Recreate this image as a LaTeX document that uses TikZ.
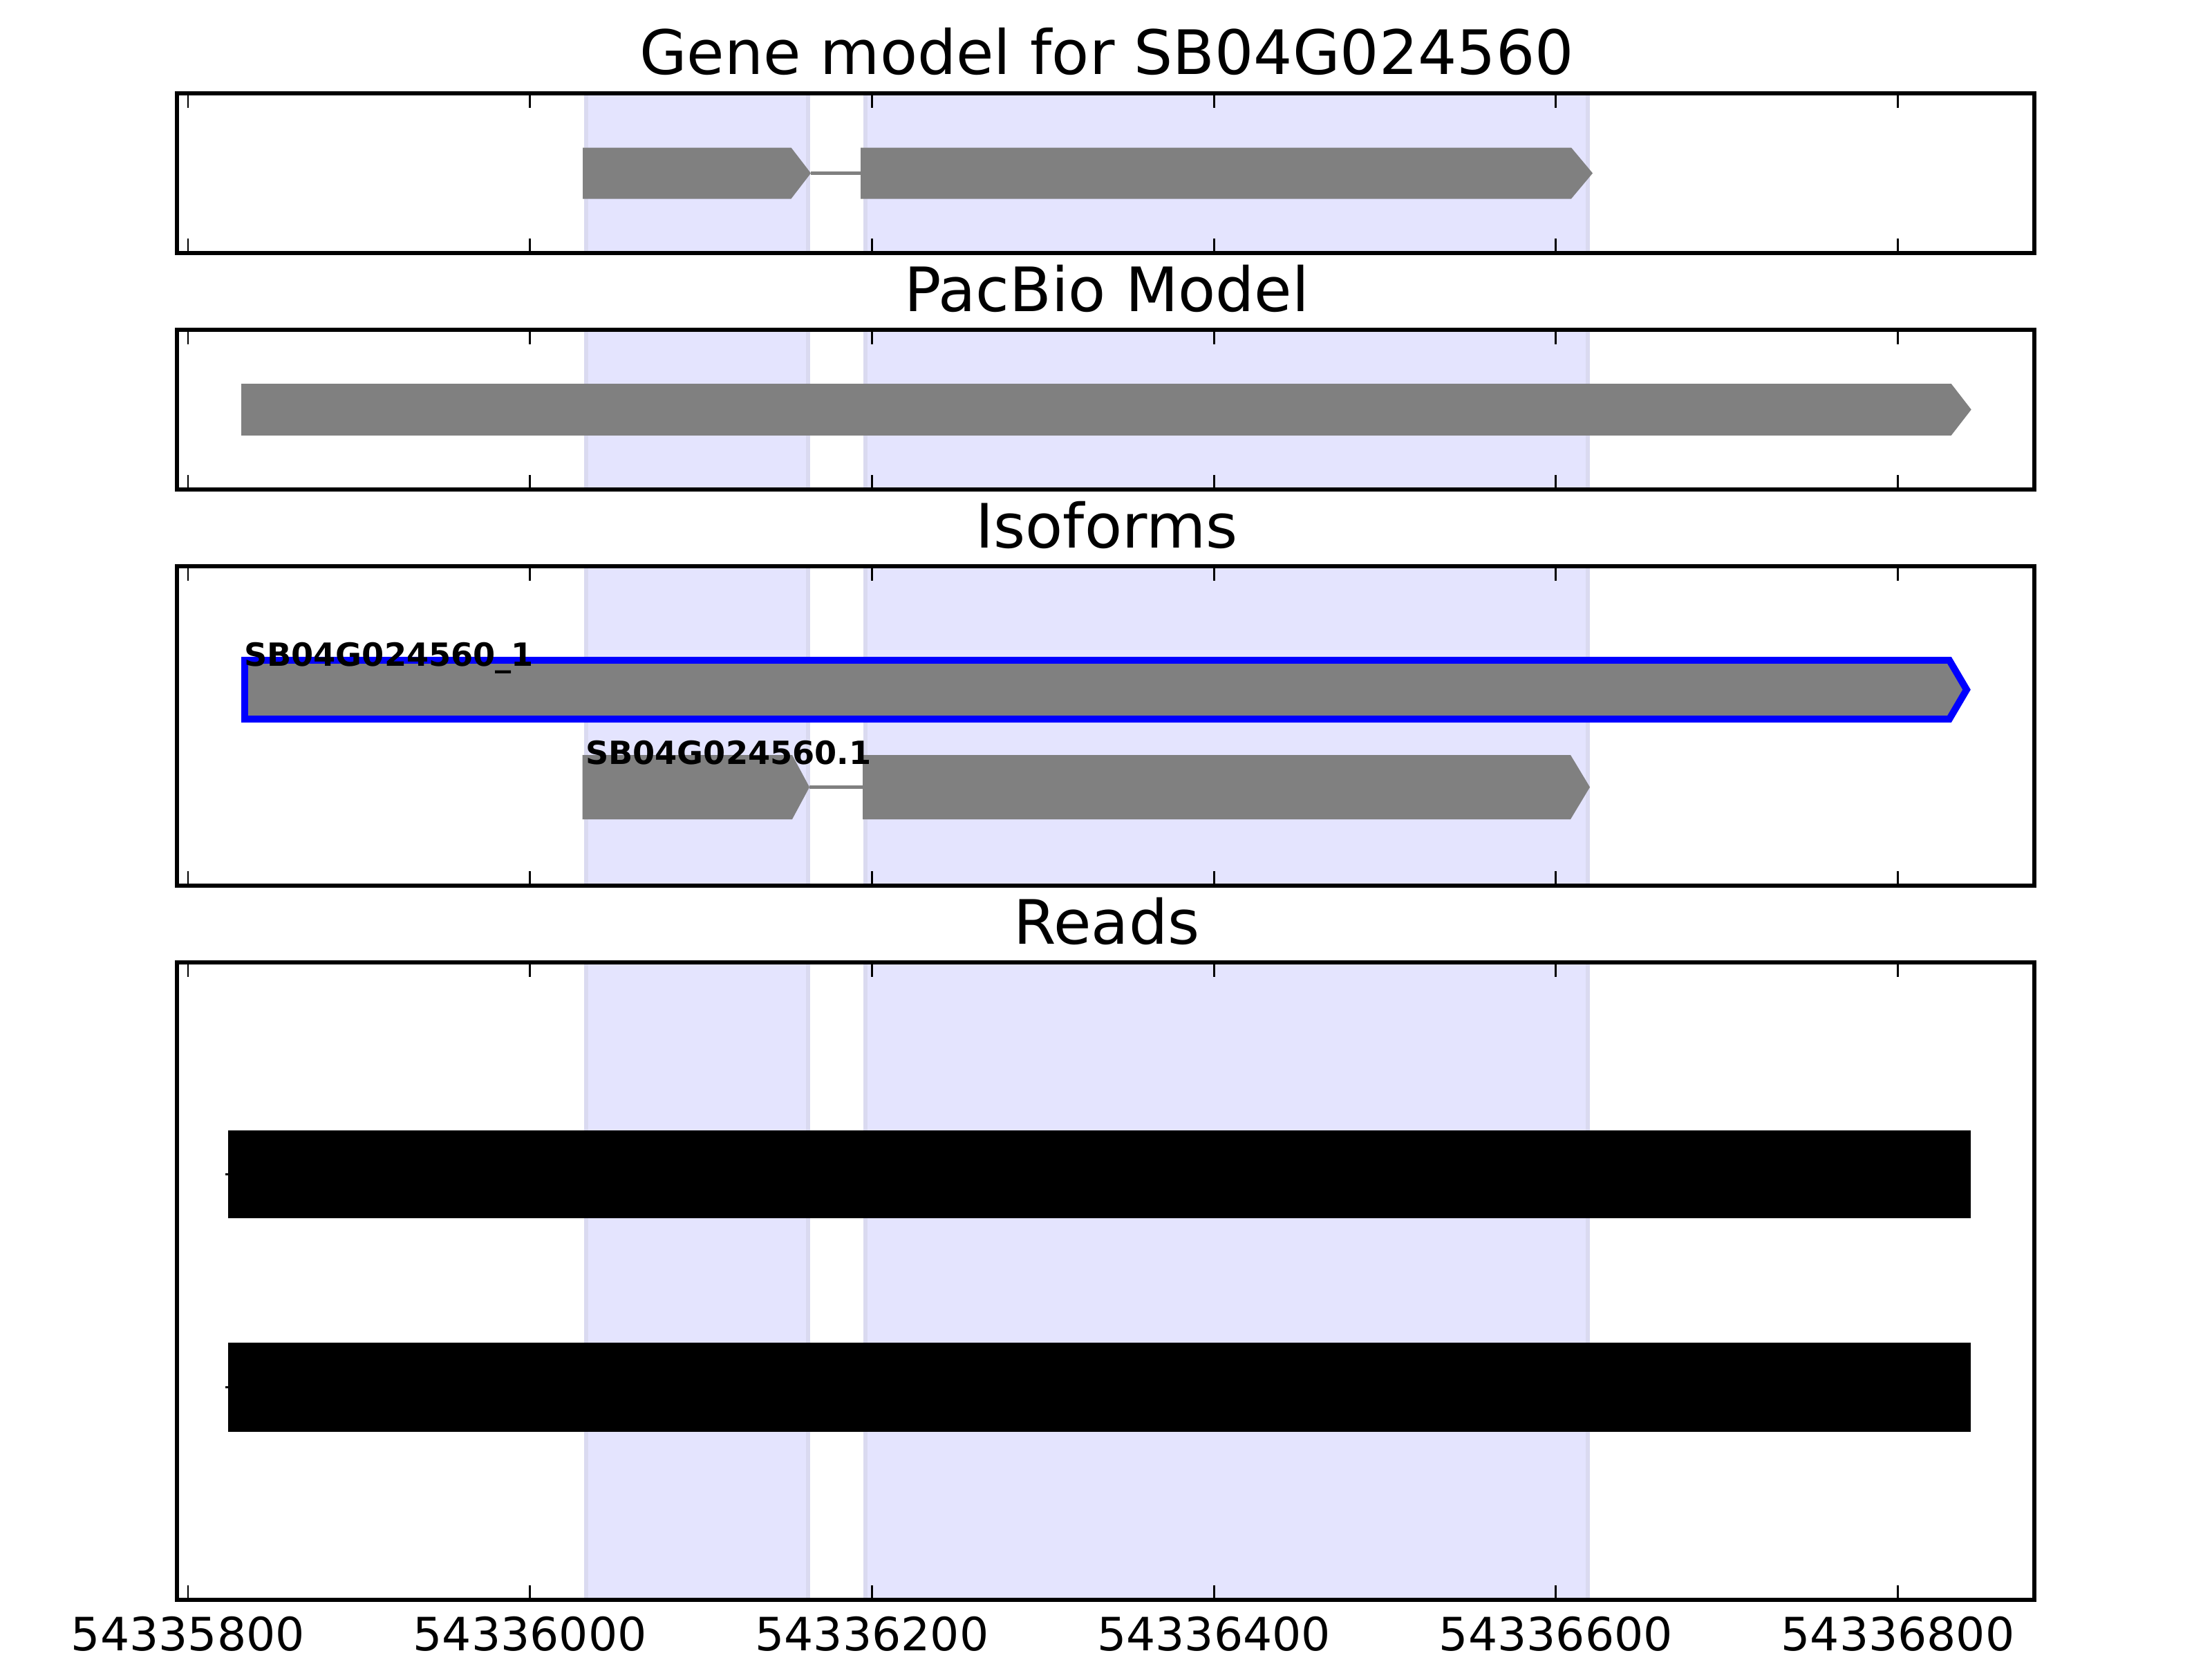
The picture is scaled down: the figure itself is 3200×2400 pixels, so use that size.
\documentclass[tikz,border=0pt]{standalone}
\usepackage{fontspec}
\setmainfont{DejaVu Sans}
\definecolor{shade}{HTML}{E4E4FE}
\definecolor{shadeedge}{HTML}{DADAF0}
\definecolor{genegray}{HTML}{808080}
\definecolor{isoblue}{HTML}{0000FF}
\begin{document}
\begin{tikzpicture}[x=0.180675pt,y=-0.180675pt,
  spine/.style={draw=black,line width=1pt},
  tickmark/.style={draw=black,line width=0.5pt},
  shadebox/.style={fill=shade,draw=shadeedge,line width=1pt},
  exon/.style={fill=genegray,draw=none},
  intron/.style={draw=genegray,line width=1pt},
  readbar/.style={fill=black,draw=none},
  ptitle/.style={font=\fontsize{16}{19}\selectfont,anchor=base,inner sep=0pt},
  ticklab/.style={font=\fontsize{12}{14}\selectfont,anchor=base,inner sep=0pt},
  isolab/.style={font=\fontsize{8.35}{10}\selectfont\bfseries,anchor=base west,inner sep=0pt}]
\useasboundingbox (0,0) rectangle (3200,2400);
\fill[white] (0,0) rectangle (3200,2400);

% panel geometry: left 256, right 2943
\def\AL{256}\def\AR{2943}
\def\panel#1#2{%
  \path[shadebox] (848,#1) rectangle (1169,#2);
  \path[shadebox] (1252,#1) rectangle (2297,#2);
}
\def\frame#1#2{%
  \foreach \tx in {272,766.7,1261.4,1756.1,2250.8,2745.5} {
    \draw[tickmark] (\tx,#1) -- ++(0,21);
    \draw[tickmark] (\tx,#2) -- ++(0,-21);
  }
  \draw[spine] (\AL,#1) rectangle (\AR,#2);
}

% ---------- Panel 1: Gene model ----------
\panel{135}{366}
\fill[exon] (843,213.5) -- (1144.5,213.5) -- (1173,250.5) -- (1144.5,287.5) -- (843,287.5) -- cycle;
\draw[intron] (1173,250.5) -- (1245,250.5);
\fill[exon] (1245,213.5) -- (2273,213.5) -- (2304,250.5) -- (2273,287.5) -- (1245,287.5) -- cycle;
\frame{135}{366}
\node[ptitle] (t1) at (1601,107) {Gene model for SB04G024560};

% ---------- Panel 2: PacBio ----------
\panel{477}{708}
\fill[exon] (349,555) -- (2822.7,555) -- (2851.7,592.4) -- (2822.7,629.8) -- (349,629.8) -- cycle;
\frame{477}{708}
\node[ptitle] (t2) at (1601,450) {PacBio Model};

% ---------- Panel 3: Isoforms ----------
\panel{819}{1281}
\filldraw[fill=genegray,draw=isoblue,line width=1.8pt] (354,955) -- (2820,955) -- (2845,997.5) -- (2820,1040) -- (354,1040) -- cycle;
\fill[exon] (842.5,1092) -- (1146,1092) -- (1171,1138.5) -- (1146,1185) -- (842.5,1185) -- cycle;
\draw[intron] (1171,1138.5) -- (1248,1138.5);
\fill[exon] (1248,1092) -- (2272,1092) -- (2300,1138.5) -- (2272,1185) -- (1248,1185) -- cycle;
\node[isolab] (l1) at (352,963) {SB04G024560\_1};
\node[isolab] (l2) at (846,1105) {SB04G024560.1};
\frame{819}{1281}
\node[ptitle] (t3) at (1601,792) {Isoforms};

% ---------- Panel 4: Reads ----------
\panel{1392}{2314}
\draw[black,line width=0.5pt] (326,1698.5) -- (331,1698.5);
\fill[readbar] (330,1635) rectangle (2851,1762);
\draw[black,line width=0.5pt] (326,2006.3) -- (331,2006.3);
\fill[readbar] (330,1942) rectangle (2851,2070.5);
\frame{1392}{2314}
\node[ptitle] (t4) at (1601,1365) {Reads};

% ---------- x tick labels ----------
\node[ticklab] (x0) at (272,2387) {54335800};
\node[ticklab] (x1) at (766.7,2387) {54336000};
\node[ticklab] (x2) at (1261.4,2387) {54336200};
\node[ticklab] (x3) at (1756.1,2387) {54336400};
\node[ticklab] (x4) at (2250.8,2387) {54336600};
\node[ticklab] (x5) at (2745.5,2387) {54336800};
\end{tikzpicture}
\end{document}
